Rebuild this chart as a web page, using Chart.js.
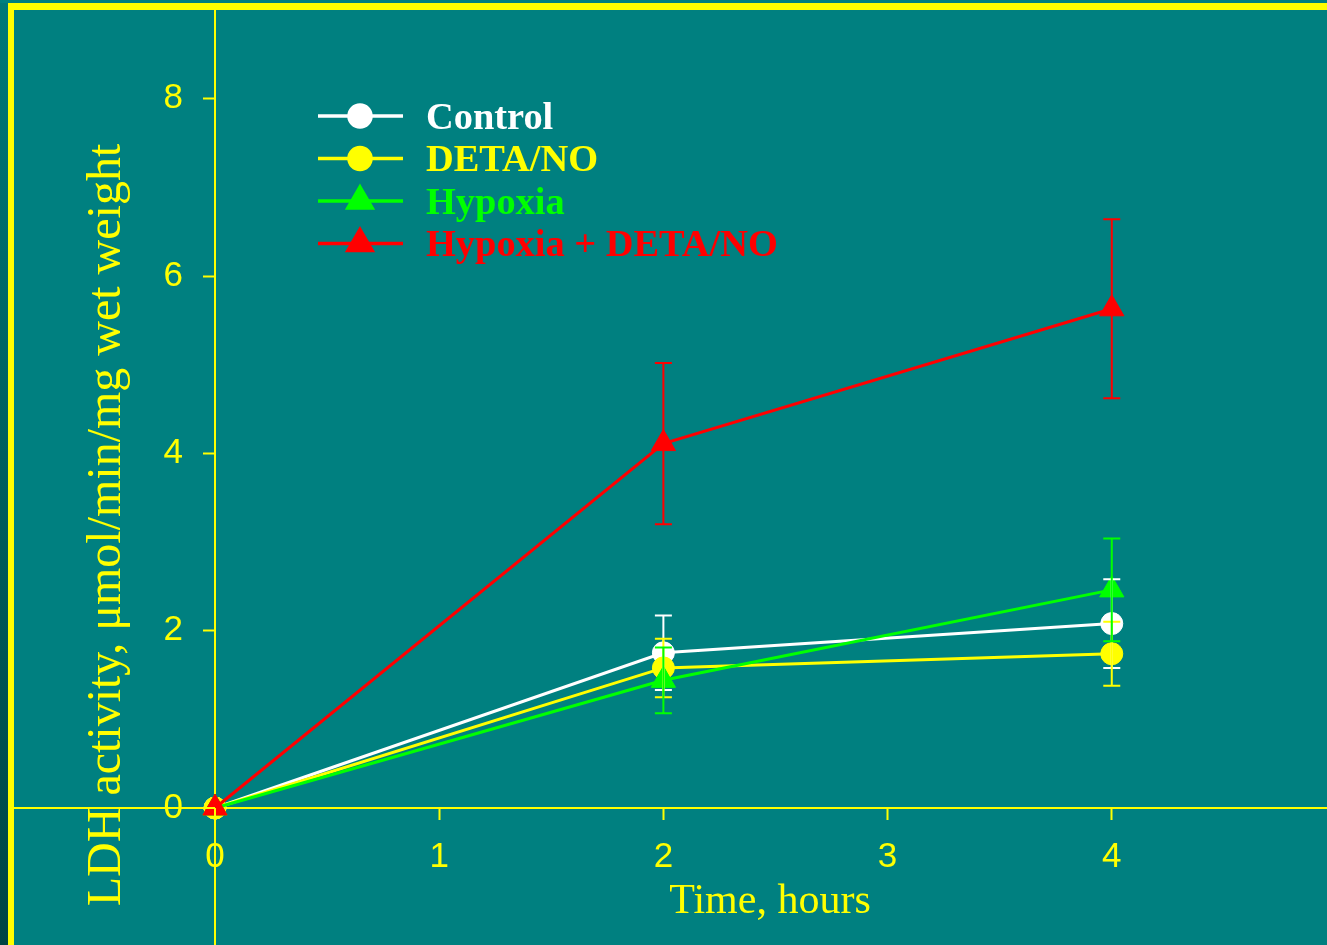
<!DOCTYPE html>
<html>
<head>
<meta charset="utf-8">
<script src="https://cdn.jsdelivr.net/npm/chart.js@4/dist/chart.umd.min.js"></script>
<style>
  html, body { margin: 0; padding: 0; background: #008080; }
  #c { display: block; }
</style>
</head>
<body>
<canvas id="c" width="1327" height="945"></canvas>
<script>
// ---- data ----
const times = [0, 2, 4];
const seriesNames = ['Control', 'DETA/NO', 'Hypoxia', 'Hypoxia + DETA/NO'];
const control = [0, 1.75, 2.08];
const controlErr = [0, 0.42, 0.50];
const detaNO = [0, 1.58, 1.74];
const detaNOErr = [0, 0.33, 0.36];
const hypoxia = [0, 1.44, 2.46];
const hypoxiaErr = [0, 0.37, 0.58];
const hypoxiaDeta = [0, 4.11, 5.63];
const hypoxiaDetaErr = [0, 0.91, 1.01];
const xTickValues = [0, 1, 2, 3, 4];
const yTickValues = [0, 2, 4, 6, 8];
const xTitle = 'Time, hours';
const yTitle = 'LDH activity, \u03bcmol/min/mg wet weight';

// ---- styles ----
const BG = '#008080';
const YELLOW = '#ffff00';
const colors = ['#ffffff', '#ffff00', '#00ff00', '#ff0000'];
const styles = ['circle', 'circle', 'triangle', 'triangle'];
const radii = [11, 11, 14, 14];
const values = [control, detaNO, hypoxia, hypoxiaDeta];
const errors = [controlErr, detaNOErr, hypoxiaErr, hypoxiaDetaErr];
const drawOrder = [4, 3, 2, 1];

const datasets = values.map((vals, i) => ({
  label: seriesNames[i],
  data: times.map((t, j) => ({ x: t, y: vals[j] })),
  errs: errors[i],
  borderColor: colors[i],
  backgroundColor: colors[i],
  pointBackgroundColor: colors[i],
  pointBorderColor: colors[i],
  pointBorderWidth: 1,
  pointStyle: styles[i],
  pointRadius: radii[i],
  pointHoverRadius: radii[i],
  borderWidth: 3,
  tension: 0,
  order: drawOrder[i],
  clip: false
}));

const framePlugin = {
  id: 'frame',
  beforeDraw(chart) {
    const ctx = chart.ctx;
    const W = chart.width, H = chart.height;
    ctx.save();
    ctx.fillStyle = BG;
    ctx.fillRect(0, 0, W, H);
    const g = ctx.createLinearGradient(0, 0, 0, H);
    g.addColorStop(0, '#007878');
    g.addColorStop(1, '#004444');
    ctx.fillStyle = g;
    ctx.fillRect(0, 3, 8, H - 3);
    ctx.fillStyle = YELLOW;
    ctx.fillRect(8, 3, W - 8, 7);
    ctx.fillRect(8, 3, 6, H - 3);
    ctx.restore();
  },
  afterDraw(chart) {
    // extend the crossing axes past the plotting area, as in the original
    const ctx = chart.ctx;
    const x0 = chart.scales.x.getPixelForValue(0);
    const y0 = chart.scales.y.getPixelForValue(0);
    ctx.save();
    ctx.strokeStyle = YELLOW;
    ctx.lineWidth = 2;
    ctx.beginPath();
    ctx.moveTo(Math.round(x0), chart.chartArea.bottom);
    ctx.lineTo(Math.round(x0), chart.height);
    ctx.moveTo(14, Math.round(y0));
    ctx.lineTo(chart.chartArea.left, Math.round(y0));
    ctx.stroke();
    ctx.restore();
  }
};

const errorBarPlugin = {
  id: 'errorBars',
  afterDatasetsDraw(chart) {
    const ctx = chart.ctx;
    const xs = chart.scales.x, ys = chart.scales.y;
    ctx.save();
    chart.data.datasets.forEach((ds) => {
      ds.data.forEach((p, j) => {
        const e = ds.errs[j];
        if (!e) return;
        const x = xs.getPixelForValue(p.x);
        const yt = ys.getPixelForValue(p.y + e);
        const yb = ys.getPixelForValue(p.y - e);
        ctx.strokeStyle = ds.borderColor;
        ctx.lineWidth = 2;
        ctx.beginPath();
        ctx.moveTo(x, yt); ctx.lineTo(x, yb);
        ctx.moveTo(x - 8.5, yt); ctx.lineTo(x + 8.5, yt);
        ctx.moveTo(x - 8.5, yb); ctx.lineTo(x + 8.5, yb);
        ctx.stroke();
      });
    });
    ctx.restore();
  }
};

const legendTitlePlugin = {
  id: 'legendTitles',
  afterDraw(chart) {
    const ctx = chart.ctx;
    ctx.save();
    const rowY = [116, 158.5, 201, 243.5];
    chart.data.datasets.forEach((ds, i) => {
      const y = rowY[i];
      ctx.strokeStyle = ds.borderColor;
      ctx.lineWidth = 3.5;
      ctx.beginPath();
      ctx.moveTo(318, y); ctx.lineTo(403, y);
      ctx.stroke();
      ctx.fillStyle = ds.borderColor;
      Chart.helpers.drawPoint(ctx, { pointStyle: ds.pointStyle, radius: ds.pointRadius, borderWidth: 1, rotation: 0 }, 360, y);
      ctx.fill();
      ctx.font = 'bold 38.4px "Liberation Serif", "Times New Roman", serif';
      ctx.textAlign = 'left';
      ctx.textBaseline = 'alphabetic';
      ctx.fillText(ds.label, 426, y + 12.5);
    });
    ctx.fillStyle = YELLOW;
    ctx.font = '42px "Liberation Serif", "Times New Roman", serif';
    ctx.textAlign = 'center';
    ctx.textBaseline = 'alphabetic';
    ctx.fillText(xTitle, 770, 913);
    ctx.translate(120, 525);
    ctx.rotate(-Math.PI / 2);
    ctx.font = '48px "Liberation Serif", "Times New Roman", serif';
    ctx.fillText(yTitle, 0, 0);
    ctx.restore();
  }
};

const tickFont = { family: '"Liberation Sans", Arial, sans-serif', size: 35 };

new Chart(document.getElementById('c'), {
  type: 'line',
  data: { datasets },
  plugins: [framePlugin, errorBarPlugin, legendTitlePlugin],
  options: {
    responsive: false,
    animation: false,
    devicePixelRatio: 1,
    layout: { autoPadding: false, padding: { left: 0, top: 10, right: 0, bottom: 0 } },
    plugins: { legend: { display: false }, tooltip: { enabled: false } },
    events: [],
    scales: {
      x: {
        type: 'linear',
        position: 'bottom',
        min: 0,
        max: 4.96,
        afterBuildTicks(scale) { scale.ticks = xTickValues.map(v => ({ value: v })); },
        afterFit(scale) { scale.height = 137; scale.paddingLeft = 0; scale.paddingRight = 0; },
        ticks: { color: YELLOW, font: tickFont, padding: 16, autoSkip: false, maxRotation: 0 },
        grid: { display: true, drawOnChartArea: false, drawTicks: true, tickLength: 12, tickColor: YELLOW, tickWidth: 2 },
        border: { display: true, color: YELLOW, width: 2 }
      },
      y: {
        type: 'linear',
        position: 'left',
        min: 0,
        max: 9,
        afterBuildTicks(scale) { scale.ticks = yTickValues.map(v => ({ value: v })); },
        afterFit(scale) { scale.width = 215; scale.paddingTop = 0; scale.paddingBottom = 0; },
        ticks: { color: YELLOW, font: tickFont, padding: 20, autoSkip: false },
        grid: { display: true, drawOnChartArea: false, drawTicks: true, tickLength: 12, tickColor: YELLOW, tickWidth: 2 },
        border: { display: true, color: YELLOW, width: 2 }
      }
    }
  }
});
</script>
</body>
</html>
